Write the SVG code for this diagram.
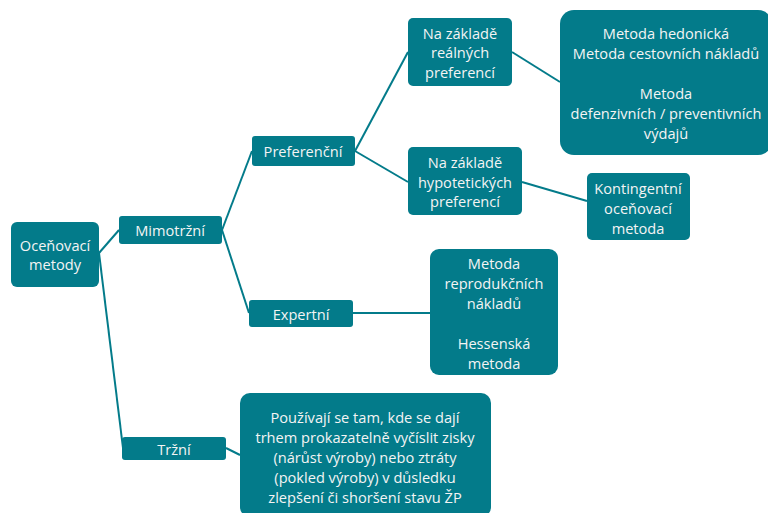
<svg xmlns="http://www.w3.org/2000/svg" width="768" height="513" viewBox="0 0 768 513">
<style>
.n rect{fill:#037B8A;}
.n text{fill:#F4F4F4;font-family:"Open Sans","Noto Sans",sans-serif;font-size:14.6px;text-anchor:middle;dominant-baseline:central;}
.c line{stroke:#037B8A;stroke-width:2;}
</style>
<rect width="768" height="513" fill="#FFFFFF"/>
<g id="connectors" class="c">
<line x1="99" y1="253" x2="119" y2="230"/>
<line x1="99" y1="253" x2="123" y2="448"/>
<line x1="222" y1="230" x2="252" y2="151"/>
<line x1="222" y1="230" x2="249" y2="313"/>
<line x1="355" y1="151" x2="408" y2="52"/>
<line x1="355" y1="151" x2="408" y2="182"/>
<line x1="512" y1="52" x2="560" y2="82"/>
<line x1="522" y1="182" x2="587" y2="201"/>
<line x1="353" y1="313" x2="430" y2="313"/>
<line x1="226" y1="448" x2="240" y2="455"/>
</g>
<g id="ocenovaci" class="n">
<rect x="11" y="222" width="88" height="65" rx="6"/>
<text x="55" y="245">Oceňovací</text>
<text x="55" y="264">metody</text>
</g>
<g id="mimotrzni" class="n">
<rect x="119" y="216" width="103" height="28" rx="3"/>
<text x="170" y="230">Mimotržní</text>
</g>
<g id="preferencni" class="n">
<rect x="252" y="136" width="103" height="30" rx="3"/>
<text x="303" y="151">Preferenční</text>
</g>
<g id="realne" class="n">
<rect x="408" y="18" width="104" height="68" rx="5"/>
<text x="460" y="33">Na základě</text>
<text x="460" y="52">reálných</text>
<text x="460" y="72">preferencí</text>
</g>
<g id="hypoteticke" class="n">
<rect x="408" y="147" width="114" height="68" rx="5"/>
<text x="465" y="162">Na základě</text>
<text x="465" y="182">hypotetických</text>
<text x="465" y="201">preferencí</text>
</g>
<g id="hedonicka" class="n">
<rect x="560" y="10" width="212" height="145" rx="14"/>
<text x="666" y="33">Metoda hedonická</text>
<text x="666" y="53">Metoda cestovních nákladů</text>
<text x="666" y="93">Metoda</text>
<text x="666" y="113">defenzivních / preventivních</text>
<text x="666" y="133">výdajů</text>
</g>
<g id="kontingentni" class="n">
<rect x="587" y="173" width="103" height="67" rx="5"/>
<text x="638" y="188">Kontingentní</text>
<text x="638" y="208">oceňovací</text>
<text x="638" y="228">metoda</text>
</g>
<g id="expertni" class="n">
<rect x="249" y="300" width="104" height="27" rx="3"/>
<text x="301" y="314">Expertní</text>
</g>
<g id="reprodukcni" class="n">
<rect x="430" y="249" width="128" height="126" rx="9"/>
<text x="494" y="263">Metoda</text>
<text x="494" y="283">reprodukčních</text>
<text x="494" y="303">nákladů</text>
<text x="494" y="343">Hessenská</text>
<text x="494" y="363">metoda</text>
</g>
<g id="trzni" class="n">
<rect x="122" y="437" width="104" height="23" rx="3"/>
<text x="174" y="449">Tržní</text>
</g>
<g id="trzni-popis" class="n">
<rect x="240" y="393" width="251" height="124" rx="10"/>
<text x="365" y="417">Používají se tam, kde se dají</text>
<text x="365" y="437">trhem prokazatelně vyčíslit zisky</text>
<text x="365" y="457">(nárůst výroby) nebo ztráty</text>
<text x="365" y="477">(pokled výroby) v důsledku</text>
<text x="365" y="497">zlepšení či shoršení stavu ŽP</text>
</g>
</svg>
